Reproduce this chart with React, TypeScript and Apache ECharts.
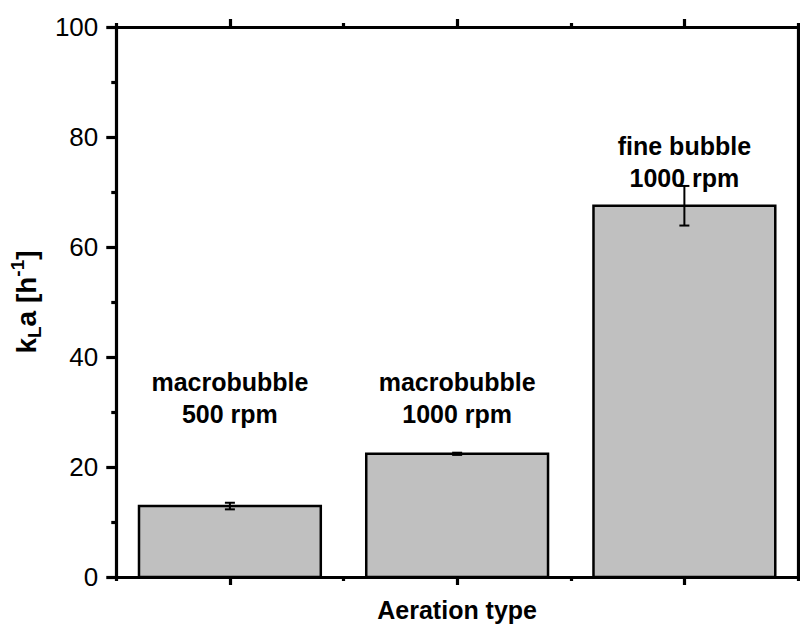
import React, { useEffect, useRef } from "react";
import * as echarts from "echarts";

const categories = ["macrobubble\n500 rpm", "macrobubble\n1000 rpm", "fine bubble\n1000 rpm"];
const positions = [1, 2, 3];
const values = [12.9, 22.4, 67.5];
const errors = [0.6, 0.2, 3.6];
const labelAnchors = [32.5, 32.5, 75.5];
const yTicks = [0, 20, 40, 60, 80, 100];

const FONT = "Liberation Sans, Arial, sans-serif";

export default function App() {
  const ref = useRef<HTMLDivElement>(null);
  useEffect(() => {
    if (!ref.current) return;
    const chart = echarts.init(ref.current, null, { renderer: "svg" });
    const barData = positions.map((p, i) => [p, values[i]]);
    const errData = positions.map((p, i) => [p, values[i] - errors[i], values[i] + errors[i]]);
    const labelData = positions.map((p, i) => [p, labelAnchors[i], categories[i]]);
    const lineStyle = { color: "#000", width: 3.2 };
    const baseX = {
      type: "value" as const,
      min: 0.5,
      max: 3.5,
      splitLine: { show: false },
      axisLabel: { show: false },
    };
    chart.setOption({
      animation: false,
      grid: { left: 114, right: 2, top: 27, bottom: 55, containLabel: false },
      xAxis: [
        {
          ...baseX,
          position: "bottom",
          axisLine: { show: true, onZero: false, lineStyle },
          axisTick: { show: true, customValues: positions, length: 8, lineStyle },
          name: "Aeration type",
          nameLocation: "middle",
          nameGap: 20,
          nameTextStyle: { fontFamily: FONT, fontWeight: "bold", fontSize: 25, color: "#000", verticalAlign: "top" },
        },
        {
          ...baseX,
          position: "bottom",
          axisLine: { show: false, onZero: false },
          axisTick: { show: true, customValues: [0.5, 1.5, 2.5, 3.5], length: 4, lineStyle },
        },
        {
          ...baseX,
          position: "top",
          axisLine: { show: true, onZero: false, lineStyle },
          axisTick: { show: true, customValues: positions, length: 8, lineStyle },
        },
        {
          ...baseX,
          position: "top",
          axisLine: { show: false, onZero: false },
          axisTick: { show: true, customValues: [0.5, 1.5, 2.5, 3.5], length: 4, lineStyle },
        },
      ],
      yAxis: [
        {
          type: "value",
          min: 0,
          max: 100,
          interval: 20,
          position: "left",
          splitLine: { show: false },
          axisLine: { show: true, onZero: false, lineStyle },
          axisTick: { show: true, length: 10, lineStyle },
          minorTick: { show: true, splitNumber: 2, length: 5, lineStyle },
          axisLabel: {
            margin: 18,
            fontFamily: FONT,
            fontSize: 26,
            color: "#000",
            formatter: (v: number) => (yTicks.includes(v) ? String(v) : ""),
          },
          name: "{b|k}{sub|L}{b|a [h}{sup|-1}{b|]}",
          nameLocation: "middle",
          nameRotate: 90,
          nameGap: 68,
          nameTextStyle: {
            rich: {
              b: { fontFamily: FONT, fontWeight: "bold", fontSize: 28, color: "#000", lineHeight: 36, verticalAlign: "middle" },
              sub: { fontFamily: FONT, fontWeight: "bold", fontSize: 19, color: "#000", lineHeight: 36, verticalAlign: "bottom", padding: [13, 0, 0, 0] },
              sup: { fontFamily: FONT, fontWeight: "bold", fontSize: 19, color: "#000", lineHeight: 36, verticalAlign: "top", padding: [0, 0, 13, 0] },
            },
          },
        },
        {
          type: "value",
          min: 0,
          max: 100,
          position: "right",
          splitLine: { show: false },
          axisLine: { show: true, onZero: false, lineStyle },
          axisTick: { show: false },
          axisLabel: { show: false },
        },
      ],
      series: [
        {
          type: "custom",
          xAxisIndex: 0,
          yAxisIndex: 0,
          data: barData,
          renderItem: (params: any, api: any) => {
            const x = api.value(0);
            const y = api.value(1);
            const top = api.coord([x, y]);
            const bottom = api.coord([x, 0]);
            const w = api.size([0.8, 0])[0];
            return {
              type: "rect",
              shape: { x: top[0] - w / 2, y: top[1], width: w, height: bottom[1] - top[1] },
              style: { fill: "#c0c0c0", stroke: "#000", lineWidth: 2.5 },
            };
          },
        },
        {
          type: "custom",
          xAxisIndex: 0,
          yAxisIndex: 0,
          data: errData,
          z: 5,
          renderItem: (params: any, api: any) => {
            const x = api.value(0);
            const lo = api.coord([x, api.value(1)]);
            const hi = api.coord([x, api.value(2)]);
            const cap = 5;
            const st = { stroke: "#000", lineWidth: 2 };
            return {
              type: "group",
              children: [
                { type: "line", shape: { x1: lo[0], y1: lo[1], x2: hi[0], y2: hi[1] }, style: st },
                { type: "line", shape: { x1: lo[0] - cap, y1: lo[1], x2: lo[0] + cap, y2: lo[1] }, style: st },
                { type: "line", shape: { x1: hi[0] - cap, y1: hi[1], x2: hi[0] + cap, y2: hi[1] }, style: st },
              ],
            };
          },
        },
        {
          type: "custom",
          xAxisIndex: 0,
          yAxisIndex: 0,
          data: labelData,
          z: 6,
          renderItem: (params: any, api: any) => {
            const p = api.coord([api.value(0), api.value(1)]);
            return {
              type: "text",
              x: p[0],
              y: p[1],
              style: {
                text: categories[params.dataIndex],
                fontFamily: FONT,
                fontWeight: "bold",
                fontSize: 25,
                lineHeight: 32,
                fill: "#000",
                align: "center",
                verticalAlign: "middle",
              },
            };
          },
        },
      ],
    });
    return () => chart.dispose();
  }, []);
  return <div ref={ref} style={{ width: 800, height: 632, position: "absolute", left: 0, top: 0 }} />;
}
